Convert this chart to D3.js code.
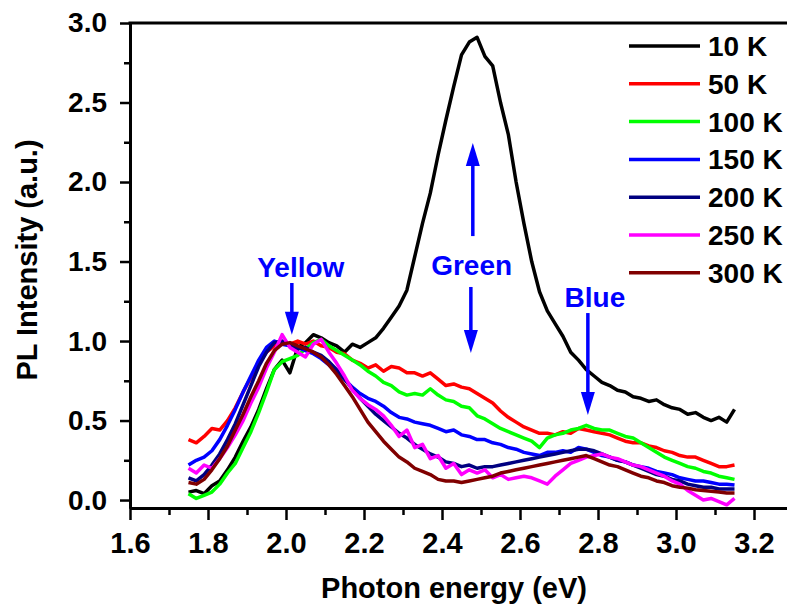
<!DOCTYPE html>
<html>
<head>
<meta charset="utf-8">
<script src="https://cdn.jsdelivr.net/npm/d3@7"></script>
<style>
  body { margin: 0; background: #fff; }
  text { font-family: "Liberation Sans", Arial, sans-serif; font-weight: bold; }
</style>
</head>
<body>
<div id="chart"></div>
<script>
// PL spectra at different temperatures

const energy = [1.75,1.77,1.79,1.81,1.83,1.85,1.87,1.89,1.91,1.93,
  1.95,1.97,1.99,2.01,2.03,2.05,2.07,2.09,2.11,2.13,
  2.15,2.17,2.19,2.21,2.23,2.25,2.27,2.29,2.31,2.33,
  2.35,2.37,2.39,2.41,2.43,2.45,2.47,2.49,2.51,2.53,
  2.55,2.57,2.59,2.61,2.63,2.65,2.67,2.69,2.71,2.73,
  2.75,2.77,2.79,2.81,2.83,2.85,2.87,2.89,2.91,2.93,
  2.95,2.97,2.99,3.01,3.03,3.05,3.07,3.09,3.11,3.13,
  3.15]

const pl10K = [0.05,0.06,0.04,0.09,0.12,0.19,0.27,0.37,0.46,0.57,
  0.70,0.82,0.88,0.80,0.96,0.99,1.04,1.02,0.99,0.97,
  0.93,0.98,0.96,0.99,1.02,1.08,1.15,1.22,1.32,1.53,
  1.74,1.93,2.17,2.39,2.60,2.80,2.88,2.91,2.79,2.73,
  2.50,2.30,2.00,1.74,1.50,1.31,1.19,1.11,1.03,0.93,
  0.88,0.82,0.78,0.74,0.72,0.69,0.68,0.65,0.64,0.62,
  0.63,0.60,0.58,0.57,0.54,0.55,0.52,0.50,0.52,0.49,
  0.57]

const pl50K = [0.38,0.36,0.40,0.45,0.44,0.50,0.58,0.68,0.77,0.86,
  0.93,0.97,0.99,0.98,1.00,0.98,1.00,0.97,0.96,0.93,
  0.92,0.88,0.86,0.83,0.85,0.81,0.84,0.83,0.80,0.80,
  0.78,0.80,0.76,0.72,0.73,0.71,0.70,0.67,0.64,0.61,
  0.56,0.52,0.49,0.46,0.44,0.42,0.42,0.41,0.43,0.42,
  0.45,0.44,0.43,0.42,0.41,0.39,0.37,0.36,0.36,0.34,
  0.33,0.31,0.30,0.28,0.27,0.27,0.25,0.23,0.21,0.21,
  0.22]

const pl100K = [0.04,0.01,0.03,0.05,0.10,0.17,0.23,0.33,0.43,0.55,
  0.68,0.82,0.87,0.89,0.91,0.95,0.99,1.01,0.97,0.94,
  0.91,0.88,0.85,0.81,0.78,0.74,0.72,0.68,0.66,0.67,
  0.66,0.70,0.66,0.63,0.62,0.59,0.58,0.53,0.51,0.48,
  0.45,0.43,0.41,0.39,0.37,0.33,0.39,0.41,0.42,0.44,
  0.45,0.47,0.45,0.44,0.44,0.42,0.40,0.39,0.36,0.33,
  0.30,0.27,0.25,0.23,0.21,0.20,0.18,0.17,0.15,0.14,
  0.13]

const pl150K = [0.22,0.25,0.27,0.31,0.38,0.47,0.57,0.68,0.78,0.88,
  0.96,1.00,0.98,0.97,0.96,0.94,0.92,0.89,0.85,0.80,
  0.76,0.71,0.67,0.64,0.62,0.59,0.55,0.52,0.51,0.49,
  0.48,0.47,0.45,0.43,0.44,0.41,0.40,0.38,0.38,0.36,
  0.35,0.33,0.32,0.30,0.29,0.28,0.30,0.30,0.31,0.30,
  0.33,0.32,0.30,0.28,0.27,0.25,0.24,0.22,0.21,0.20,
  0.18,0.17,0.16,0.14,0.13,0.12,0.12,0.11,0.10,0.10,
  0.095]

const pl200K = [0.14,0.12,0.16,0.22,0.29,0.38,0.48,0.60,0.72,0.84,
  0.93,0.99,1.00,0.97,0.95,0.96,0.93,0.91,0.87,0.82,
  0.76,0.70,0.64,0.59,0.54,0.50,0.46,0.42,0.39,0.35,
  0.32,0.29,0.27,0.24,0.23,0.21,0.22,0.20,0.21,0.21,
  0.22,0.23,0.24,0.25,0.26,0.27,0.28,0.29,0.30,0.31,
  0.32,0.32,0.31,0.29,0.27,0.25,0.24,0.22,0.20,0.18,
  0.16,0.15,0.13,0.12,0.10,0.09,0.08,0.08,0.07,0.07,
  0.07]

const pl250K = [0.20,0.17,0.22,0.20,0.26,0.33,0.41,0.50,0.61,0.71,
  0.83,0.93,1.04,0.96,0.93,0.90,0.98,1.01,0.93,0.86,
  0.78,0.69,0.64,0.60,0.57,0.53,0.47,0.40,0.44,0.33,
  0.35,0.26,0.28,0.20,0.23,0.16,0.19,0.17,0.19,0.14,
  0.16,0.13,0.14,0.15,0.14,0.12,0.10,0.15,0.19,0.23,
  0.25,0.27,0.28,0.29,0.27,0.26,0.24,0.22,0.21,0.19,
  0.17,0.15,0.12,0.10,0.06,0.03,0.00,0.01,-0.01,-0.03,
  0.01]

const pl300K = [0.11,0.10,0.13,0.19,0.26,0.34,0.44,0.54,0.65,0.75,
  0.86,0.94,0.98,0.99,0.97,0.95,0.93,0.90,0.85,0.79,
  0.72,0.65,0.57,0.49,0.43,0.37,0.32,0.27,0.24,0.20,
  0.18,0.16,0.13,0.12,0.12,0.11,0.12,0.13,0.14,0.15,
  0.17,0.18,0.19,0.20,0.21,0.22,0.23,0.24,0.25,0.26,
  0.27,0.28,0.26,0.24,0.22,0.21,0.19,0.17,0.15,0.14,
  0.12,0.11,0.09,0.08,0.075,0.065,0.06,0.055,0.05,0.045,
  0.045]

const labels = ['10 K', '50 K', '100 K', '150 K', '200 K', '250 K', '300 K']
const colors = ['#000000', '#ff0000', '#00ff00', '#0000ff', '#000080', '#ff00ff', '#800000']
const values = [pl10K, pl50K, pl100K, pl150K, pl200K, pl250K, pl300K]

const xTicks = [1.6, 1.8, 2.0, 2.2, 2.4, 2.6, 2.8, 3.0, 3.2]
const xMinor = [1.7, 1.9, 2.1, 2.3, 2.5, 2.7, 2.9, 3.1]
const yTicks = [0.0, 0.5, 1.0, 1.5, 2.0, 2.5, 3.0]
const yMinor = [0.25, 0.75, 1.25, 1.75, 2.25, 2.75]

// annotations: text positions and arrows (energy, intensity)
const notes = [
  { text: 'Yellow', e: 2.038, v: 1.40 },
  { text: 'Green', e: 2.476, v: 1.415 },
  { text: 'Blue', e: 2.792, v: 1.215 }
]
const arrows = [
  { e: 2.015, from: 1.365, to: 1.04 },
  { e: 2.479, from: 1.66, to: 2.245 },
  { e: 2.474, from: 1.34, to: 0.925 },
  { e: 2.774, from: 1.176, to: 0.535 }
]

const width = 787
const height = 607

const svg = d3.select('#chart')
  .append('svg')
  .attr('width', width)
  .attr('height', height)

const x = d3.scaleLinear().domain([1.6, 3.2846]).range([130, 787])
const y = d3.scaleLinear().domain([-0.05, 3.0]).range([508, 23])

// Curves
const series = labels.map((label, i) => ({
  label,
  color: colors[i],
  points: energy.map((e, j) => ({ e, v: values[i][j] }))
}))

const line = d3.line().x(d => x(d.e)).y(d => y(d.v))

svg.append('g')
  .selectAll('path')
  .data(series)
  .enter().append('path')
  .attr('d', d => line(d.points))
  .attr('fill', 'none')
  .attr('stroke', d => d.color)
  .attr('stroke-width', 3.5)
  .attr('stroke-linejoin', 'round')

// Axes
const styleAxis = (g, size) => {
  g.select('.domain').attr('stroke-width', 3)
  g.selectAll('.tick line').attr('stroke-width', 2.5)
  g.selectAll('text')
    .attr('font-size', size)
    .attr('font-family', '"Liberation Sans", Arial, sans-serif')
    .attr('font-weight', 'bold')
    .attr('fill', '#000')
}

svg.append('g')
  .attr('transform', `translate(0, ${y.range()[0]})`)
  .call(d3.axisBottom(x).tickValues(xMinor).tickSize(7).tickSizeOuter(0).tickFormat(''))
  .call(g => styleAxis(g, 28))

svg.append('g')
  .attr('transform', `translate(0, ${y.range()[0]})`)
  .call(d3.axisBottom(x).tickValues(xTicks).tickSize(12).tickPadding(12).tickSizeOuter(0).tickFormat(d3.format('.1f')))
  .call(g => styleAxis(g, 29))

svg.append('g')
  .attr('transform', `translate(${x.range()[0]}, 0)`)
  .call(d3.axisLeft(y).tickValues(yMinor).tickSize(6).tickSizeOuter(0).tickFormat(''))
  .call(g => styleAxis(g, 28))

svg.append('g')
  .attr('transform', `translate(${x.range()[0]}, 0)`)
  .call(d3.axisLeft(y).tickValues(yTicks).tickSize(10).tickPadding(13).tickSizeOuter(0).tickFormat(d3.format('.1f')))
  .call(g => styleAxis(g, 28))

// top frame line
svg.append('line')
  .attr('x1', x.range()[0] - 1.5).attr('x2', x.range()[1])
  .attr('y1', y(3.0)).attr('y2', y(3.0))
  .attr('stroke', '#000').attr('stroke-width', 3)

// Axis titles
svg.append('text')
  .attr('x', 454).attr('y', 598)
  .attr('text-anchor', 'middle')
  .attr('font-size', 29)
  .text('Photon energy (eV)')

svg.append('text')
  .attr('transform', 'translate(37, 260) rotate(-90)')
  .attr('text-anchor', 'middle')
  .attr('font-size', 29)
  .text('PL Intensity (a.u.)')

// Annotations
svg.append('g')
  .selectAll('text')
  .data(notes)
  .enter().append('text')
  .attr('x', d => x(d.e))
  .attr('y', d => y(d.v))
  .attr('text-anchor', 'middle')
  .attr('font-size', 28)
  .attr('fill', '#0000ff')
  .text(d => d.text)

const arrow = svg.append('g')
  .selectAll('g')
  .data(arrows)
  .enter().append('g')

arrow.append('line')
  .attr('x1', d => x(d.e)).attr('x2', d => x(d.e))
  .attr('y1', d => y(d.from))
  .attr('y2', d => y(d.to) + (d.to > d.from ? 18 : -18))
  .attr('stroke', '#0000ff')
  .attr('stroke-width', 3.5)

arrow.append('path')
  .attr('d', d => {
    const px = x(d.e)
    const tip = y(d.to)
    const base = tip + (d.to > d.from ? 23 : -23)
    return `M${px},${tip}L${px - 7},${base}L${px + 7},${base}Z`
  })
  .attr('fill', '#0000ff')

// Legend
const legend = svg.append('g')
  .selectAll('g')
  .data(series)
  .enter().append('g')
  .attr('transform', (d, i) => `translate(629, ${46 + i * 37.8})`)

legend.append('line')
  .attr('x1', 0).attr('x2', 71)
  .attr('stroke', d => d.color)
  .attr('stroke-width', 3.5)

legend.append('text')
  .attr('x', 79)
  .attr('dy', '0.36em')
  .attr('font-size', 28)
  .text(d => d.label)
</script>
</body>
</html>
